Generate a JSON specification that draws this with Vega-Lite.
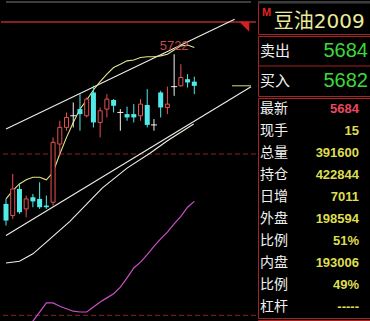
{
  "$schema": "https://vega.github.io/schema/vega-lite/v6.json",
  "background": "#000000",
  "padding": 0,
  "spacing": 0,
  "config": {"view": {"stroke": "#a82222", "strokeWidth": 1}},
  "datasets": {
    "candles": [
      {"t": 0, "o": 5542, "h": 5548, "l": 5516, "c": 5522},
      {"t": 1, "o": 5528, "h": 5578, "l": 5524, "c": 5560},
      {"t": 2, "o": 5560, "h": 5566, "l": 5530, "c": 5532},
      {"t": 3, "o": 5536, "h": 5552, "l": 5526, "c": 5548},
      {"t": 4, "o": 5550, "h": 5554, "l": 5538, "c": 5545},
      {"t": 5, "o": 5548, "h": 5568, "l": 5536, "c": 5538},
      {"t": 6, "o": 5540, "h": 5552, "l": 5536, "c": 5538},
      {"t": 7, "o": 5544, "h": 5622, "l": 5540, "c": 5616},
      {"t": 8, "o": 5614, "h": 5642, "l": 5600, "c": 5634},
      {"t": 9, "o": 5634, "h": 5652, "l": 5630, "c": 5646},
      {"t": 10, "o": 5648, "h": 5664, "l": 5634, "c": 5648},
      {"t": 11, "o": 5656, "h": 5674, "l": 5630, "c": 5650},
      {"t": 12, "o": 5648, "h": 5670, "l": 5646, "c": 5668},
      {"t": 13, "o": 5676, "h": 5684, "l": 5634, "c": 5640},
      {"t": 14, "o": 5640, "h": 5658, "l": 5622, "c": 5654},
      {"t": 15, "o": 5656, "h": 5674, "l": 5646, "c": 5668},
      {"t": 16, "o": 5667, "h": 5668, "l": 5652, "c": 5660},
      {"t": 17, "o": 5652, "h": 5656, "l": 5630, "c": 5652},
      {"t": 18, "o": 5650, "h": 5659, "l": 5642, "c": 5646},
      {"t": 19, "o": 5650, "h": 5662, "l": 5640, "c": 5646},
      {"t": 20, "o": 5648, "h": 5668, "l": 5642, "c": 5662},
      {"t": 21, "o": 5661, "h": 5680, "l": 5634, "c": 5637},
      {"t": 22, "o": 5637, "h": 5644, "l": 5630, "c": 5637},
      {"t": 23, "o": 5676, "h": 5678, "l": 5646, "c": 5658},
      {"t": 24, "o": 5658, "h": 5683, "l": 5650, "c": 5662},
      {"t": 25, "o": 5683, "h": 5722, "l": 5672, "c": 5683},
      {"t": 26, "o": 5684, "h": 5710, "l": 5683, "c": 5694},
      {"t": 27, "o": 5692, "h": 5698, "l": 5682, "c": 5688},
      {"t": 28, "o": 5689, "h": 5695, "l": 5674, "c": 5684}
    ],
    "ma": [
      {"t": 0, "p": 5548}, {"t": 1, "p": 5558}, {"t": 2, "p": 5566}, {"t": 3, "p": 5571},
      {"t": 4, "p": 5574}, {"t": 5, "p": 5574}, {"t": 6, "p": 5571}, {"t": 7, "p": 5580},
      {"t": 8, "p": 5602}, {"t": 9, "p": 5622}, {"t": 10, "p": 5640}, {"t": 11, "p": 5656},
      {"t": 12, "p": 5667}, {"t": 13, "p": 5679}, {"t": 14, "p": 5689}, {"t": 15, "p": 5698},
      {"t": 16, "p": 5706}, {"t": 17, "p": 5710}, {"t": 18, "p": 5714}, {"t": 19, "p": 5715},
      {"t": 20, "p": 5718}, {"t": 21, "p": 5719}, {"t": 22, "p": 5719}, {"t": 23, "p": 5720},
      {"t": 24, "p": 5722}, {"t": 25, "p": 5727}, {"t": 26, "p": 5732}, {"t": 27, "p": 5733},
      {"t": 28, "p": 5730}
    ],
    "indicator": [
      {"t": 3, "p": 5382}, {"t": 4, "p": 5401}, {"t": 5, "p": 5412}, {"t": 6, "p": 5423},
      {"t": 7, "p": 5423}, {"t": 8, "p": 5419}, {"t": 9, "p": 5416}, {"t": 10, "p": 5413},
      {"t": 11, "p": 5412}, {"t": 12, "p": 5412}, {"t": 13, "p": 5418}, {"t": 14, "p": 5424},
      {"t": 15, "p": 5429}, {"t": 16, "p": 5434}, {"t": 17, "p": 5442}, {"t": 18, "p": 5453},
      {"t": 19, "p": 5465}, {"t": 20, "p": 5472}, {"t": 21, "p": 5481}, {"t": 22, "p": 5491},
      {"t": 23, "p": 5500}, {"t": 24, "p": 5508}, {"t": 25, "p": 5518}, {"t": 26, "p": 5527},
      {"t": 27, "p": 5538}, {"t": 28, "p": 5545}
    ],
    "channel": [
      {"s": "upper", "t": 0, "p": 5632}, {"s": "upper", "t": 34, "p": 5764},
      {"s": "lower", "t": 0, "p": 5504}, {"s": "lower", "t": 36.43, "p": 5683},
      {"s": "band", "t": 0, "p": 5471}, {"s": "band", "t": 2, "p": 5473},
      {"s": "band", "t": 4, "p": 5482}, {"s": "band", "t": 6, "p": 5496},
      {"s": "band", "t": 9.5, "p": 5521}, {"s": "band", "t": 14.3, "p": 5561},
      {"s": "band", "t": 18, "p": 5585}, {"s": "band", "t": 21.4, "p": 5603},
      {"s": "band", "t": 24, "p": 5618}, {"s": "band", "t": 27.9, "p": 5638}
    ],
    "book": [
      {"n": 1, "label": "卖出", "v": "5684"},
      {"n": 2, "label": "买入", "v": "5682"}
    ],
    "quote": [
      {"n": 1, "label": "最新", "v": "5684"},
      {"n": 2, "label": "现手", "v": "15"},
      {"n": 3, "label": "总量", "v": "391600"},
      {"n": 4, "label": "持仓", "v": "422844"},
      {"n": 5, "label": "日增", "v": "7011"},
      {"n": 6, "label": "外盘", "v": "198594"},
      {"n": 7, "label": "比例", "v": "51%"},
      {"n": 8, "label": "内盘", "v": "193006"},
      {"n": 9, "label": "比例", "v": "49%"},
      {"n": 10, "label": "杠杆", "v": "-----"}
    ]
  },
  "hconcat": [
    {
      "width": 255,
      "height": 321,
      "view": {"stroke": null},
      "layer": [
        {
          "data": {"values": [{}]},
          "mark": {"type": "rect", "color": "#3c3c3c"},
          "encoding": {
            "x": {"datum": 0, "type": "quantitative", "scale": {"domain": [0, 36.43], "nice": false, "zero": false}, "axis": null},
            "x2": {"datum": 36.43},
            "y": {"datum": 5786, "type": "quantitative", "scale": {"domain": [5400, 5786], "nice": false, "zero": false}, "axis": null},
            "y2": {"datum": 5783.5}
          }
        },
        {
          "data": {"values": [{}]},
          "mark": {"type": "rule", "color": "#b42a2a", "strokeWidth": 1.5},
          "encoding": {
            "y": {"datum": 5760.7, "type": "quantitative", "scale": {"domain": [5400, 5786], "nice": false, "zero": false}, "axis": null}
          }
        },
        {
          "data": {"values": [{"p": 5602}, {"p": 5408}]},
          "mark": {"type": "rule", "color": "#8c2222", "strokeDash": [5, 3]},
          "encoding": {
            "y": {"field": "p", "type": "quantitative", "scale": {"domain": [5400, 5786], "nice": false, "zero": false}, "axis": null}
          }
        },
        {
          "data": {"name": "indicator"},
          "mark": {"type": "line", "color": "#c850c8", "strokeWidth": 1.2, "clip": true},
          "encoding": {
            "x": {"field": "t", "type": "quantitative", "scale": {"domain": [0, 36.43], "nice": false, "zero": false}, "axis": null},
            "y": {"field": "p", "type": "quantitative", "scale": {"domain": [5400, 5786], "nice": false, "zero": false}, "axis": null}
          }
        },
        {
          "data": {"name": "channel"},
          "mark": {"type": "line", "color": "#eeeee6", "strokeWidth": 1.1, "clip": true},
          "encoding": {
            "x": {"field": "t", "type": "quantitative", "scale": {"domain": [0, 36.43], "nice": false, "zero": false}, "axis": null},
            "y": {"field": "p", "type": "quantitative", "scale": {"domain": [5400, 5786], "nice": false, "zero": false}, "axis": null},
            "detail": {"field": "s"}
          }
        },
        {
          "data": {"name": "ma"},
          "mark": {"type": "line", "color": "#e4e48c", "strokeWidth": 1.1, "clip": true},
          "encoding": {
            "x": {"field": "t", "type": "quantitative", "scale": {"domain": [0, 36.43], "nice": false, "zero": false}, "axis": null},
            "y": {"field": "p", "type": "quantitative", "scale": {"domain": [5400, 5786], "nice": false, "zero": false}, "axis": null}
          }
        },
        {
          "data": {"values": [{}]},
          "mark": {"type": "rule", "color": "#d8d87a"},
          "encoding": {
            "x": {"datum": 33.6, "type": "quantitative", "scale": {"domain": [0, 36.43], "nice": false, "zero": false}, "axis": null},
            "x2": {"datum": 36.43},
            "y": {"datum": 5684, "type": "quantitative", "scale": {"domain": [5400, 5786], "nice": false, "zero": false}, "axis": null}
          }
        },
        {
          "data": {"values": [{}]},
          "mark": {"type": "point", "shape": "M-1,-1L1,-1L1,1Z", "filled": true, "color": "#d42020", "size": 100, "opacity": 1},
          "encoding": {
            "x": {"datum": 35.43, "type": "quantitative", "scale": {"domain": [0, 36.43], "nice": false, "zero": false}, "axis": null},
            "y": {"datum": 5755, "type": "quantitative", "scale": {"domain": [5400, 5786], "nice": false, "zero": false}, "axis": null}
          }
        },
        {
          "data": {"name": "candles"},
          "mark": {"type": "rule", "strokeWidth": 1, "clip": true},
          "encoding": {
            "x": {"field": "t", "type": "quantitative", "scale": {"domain": [0, 36.43], "nice": false, "zero": false}, "axis": null},
            "y": {"field": "l", "type": "quantitative", "scale": {"domain": [5400, 5786], "nice": false, "zero": false}, "axis": null},
            "y2": {"field": "h"},
            "color": {
              "condition": [
                {"test": "datum.c > datum.o", "value": "#e85050"},
                {"test": "datum.c < datum.o", "value": "#50eaea"}
              ],
              "value": "#f2f2f2"
            }
          }
        },
        {
          "data": {"name": "candles"},
          "transform": [{"filter": "datum.c > datum.o"}],
          "mark": {"type": "bar", "size": 4, "fill": "#000000", "stroke": "#e85050", "strokeWidth": 1, "clip": true},
          "encoding": {
            "x": {"field": "t", "type": "quantitative", "scale": {"domain": [0, 36.43], "nice": false, "zero": false}, "axis": null},
            "y": {"field": "o", "type": "quantitative", "scale": {"domain": [5400, 5786], "nice": false, "zero": false}, "axis": null},
            "y2": {"field": "c"}
          }
        },
        {
          "data": {"name": "candles"},
          "transform": [{"filter": "datum.c < datum.o"}],
          "mark": {"type": "bar", "size": 5, "fill": "#50eaea", "clip": true},
          "encoding": {
            "x": {"field": "t", "type": "quantitative", "scale": {"domain": [0, 36.43], "nice": false, "zero": false}, "axis": null},
            "y": {"field": "o", "type": "quantitative", "scale": {"domain": [5400, 5786], "nice": false, "zero": false}, "axis": null},
            "y2": {"field": "c"}
          }
        },
        {
          "data": {"name": "candles"},
          "transform": [{"filter": "datum.c == datum.o"}],
          "mark": {"type": "rule", "color": "#f2f2f2", "strokeWidth": 1, "xOffset": -3, "x2Offset": 3},
          "encoding": {
            "x": {"field": "t", "type": "quantitative", "scale": {"domain": [0, 36.43], "nice": false, "zero": false}, "axis": null},
            "x2": {"field": "t"},
            "y": {"field": "o", "type": "quantitative", "scale": {"domain": [5400, 5786], "nice": false, "zero": false}, "axis": null}
          }
        },
        {
          "data": {"name": "candles"},
          "transform": [
            {"joinaggregate": [{"op": "max", "field": "h", "as": "hmax"}]},
            {"filter": "datum.h == datum.hmax"}
          ],
          "mark": {"type": "text", "align": "center", "baseline": "bottom", "dy": -1, "font": "Liberation Sans", "fontSize": 13, "color": "#c44848"},
          "encoding": {
            "x": {"field": "t", "type": "quantitative", "scale": {"domain": [0, 36.43], "nice": false, "zero": false}, "axis": null},
            "y": {"field": "h", "type": "quantitative", "scale": {"domain": [5400, 5786], "nice": false, "zero": false}, "axis": null},
            "text": {"field": "h", "type": "quantitative", "format": "d"}
          }
        }
      ]
    },
    {
      "spacing": 0,
      "vconcat": [
        {
          "width": 113,
          "height": 33,
          "layer": [
            {
              "data": {"values": [{}]},
              "mark": {"type": "rect", "color": "#3c3c3c"},
              "encoding": {
                "x": {"datum": 0, "type": "quantitative", "scale": {"domain": [0, 1], "nice": false, "zero": false}, "axis": null},
                "x2": {"datum": 1.02},
                "y": {"datum": 0, "type": "quantitative", "scale": {"domain": [0, 1], "nice": false, "zero": false, "reverse": true}, "axis": null},
                "y2": {"datum": 0.076}
              }
            },
            {
              "data": {"values": [{"mark": "M"}]},
              "mark": {"type": "text", "align": "center", "baseline": "middle", "font": "Liberation Sans", "fontWeight": "bold", "fontSize": 11, "color": "#e02424"},
              "encoding": {
                "x": {"datum": 0.075, "type": "quantitative", "scale": {"domain": [0, 1], "nice": false, "zero": false}, "axis": null},
                "y": {"datum": 0.36, "type": "quantitative", "scale": {"domain": [0, 1], "nice": false, "zero": false, "reverse": true}, "axis": null},
                "text": {"field": "mark"}
              }
            },
            {
              "data": {"values": [{"name": "豆油2009"}]},
              "mark": {"type": "text", "align": "left", "baseline": "middle", "font": "DejaVu Sans, Noto Sans CJK SC", "fontSize": 20, "color": "#eaea9a"},
              "encoding": {
                "x": {"datum": 0.139, "type": "quantitative", "scale": {"domain": [0, 1], "nice": false, "zero": false}, "axis": null},
                "y": {"datum": 0.64, "type": "quantitative", "scale": {"domain": [0, 1], "nice": false, "zero": false, "reverse": true}, "axis": null},
                "text": {"field": "name"}
              }
            }
          ]
        },
        {
          "width": 113,
          "height": 60,
          "layer": [
            {
              "data": {"values": [{}]},
              "mark": {"type": "rule", "color": "#a82222"},
              "encoding": {
                "y": {"datum": 1.5, "type": "quantitative", "scale": {"domain": [0.5, 2.5], "nice": false, "zero": false, "reverse": true}, "axis": null}
              }
            },
            {
              "data": {"name": "book"},
              "mark": {"type": "text", "align": "left", "baseline": "middle", "font": "Noto Sans CJK SC", "fontSize": 15, "color": "#f0f0f0"},
              "encoding": {
                "x": {"datum": 0.018, "type": "quantitative", "scale": {"domain": [0, 1], "nice": false, "zero": false}, "axis": null},
                "y": {"field": "n", "type": "quantitative", "scale": {"domain": [0.5, 2.5], "nice": false, "zero": false, "reverse": true}, "axis": null},
                "text": {"field": "label"}
              }
            },
            {
              "data": {"name": "book"},
              "mark": {"type": "text", "align": "right", "baseline": "middle", "font": "Liberation Sans", "fontSize": 20, "color": "#3cd83c"},
              "encoding": {
                "x": {"datum": 0.973, "type": "quantitative", "scale": {"domain": [0, 1], "nice": false, "zero": false}, "axis": null},
                "y": {"field": "n", "type": "quantitative", "scale": {"domain": [0.5, 2.5], "nice": false, "zero": false, "reverse": true}, "axis": null},
                "text": {"field": "v"}
              }
            }
          ]
        },
        {
          "width": 113,
          "height": 220,
          "data": {"name": "quote"},
          "layer": [
            {
              "mark": {"type": "text", "align": "left", "baseline": "middle", "font": "Noto Sans CJK SC", "fontSize": 14, "color": "#f0f0f0"},
              "encoding": {
                "x": {"datum": 0.018, "type": "quantitative", "scale": {"domain": [0, 1], "nice": false, "zero": false}, "axis": null},
                "y": {"field": "n", "type": "quantitative", "scale": {"domain": [0.5, 10.5], "nice": false, "zero": false, "reverse": true}, "axis": null},
                "text": {"field": "label"}
              }
            },
            {
              "mark": {"type": "text", "align": "right", "baseline": "middle", "font": "Liberation Sans", "fontWeight": "bold", "fontSize": 13},
              "encoding": {
                "x": {"datum": 0.894, "type": "quantitative", "scale": {"domain": [0, 1], "nice": false, "zero": false}, "axis": null},
                "y": {"field": "n", "type": "quantitative", "scale": {"domain": [0.5, 10.5], "nice": false, "zero": false, "reverse": true}, "axis": null},
                "text": {"field": "v"},
                "color": {"condition": {"test": "datum.label == '最新'", "value": "#e84860"}, "value": "#dede50"}
              }
            }
          ]
        },
        {
          "width": 113,
          "height": 8,
          "layer": [
            {
              "data": {"values": [{"h": "时间"}]},
              "mark": {"type": "text", "align": "left", "baseline": "top", "font": "Noto Sans CJK SC", "fontSize": 14, "color": "#d8d8d8", "clip": true},
              "encoding": {
                "x": {"datum": 0.018, "type": "quantitative", "scale": {"domain": [0, 1], "nice": false, "zero": false}, "axis": null},
                "y": {"datum": 0.45, "type": "quantitative", "scale": {"domain": [0, 1], "nice": false, "zero": false, "reverse": true}, "axis": null},
                "text": {"field": "h"}
              }
            },
            {
              "data": {"values": [{"h": "价位"}]},
              "mark": {"type": "text", "align": "left", "baseline": "top", "font": "Noto Sans CJK SC", "fontSize": 14, "color": "#d8d8d8", "clip": true},
              "encoding": {
                "x": {"datum": 0.78, "type": "quantitative", "scale": {"domain": [0, 1], "nice": false, "zero": false}, "axis": null},
                "y": {"datum": 0.45, "type": "quantitative", "scale": {"domain": [0, 1], "nice": false, "zero": false, "reverse": true}, "axis": null},
                "text": {"field": "h"}
              }
            }
          ]
        }
      ]
    }
  ]
}
